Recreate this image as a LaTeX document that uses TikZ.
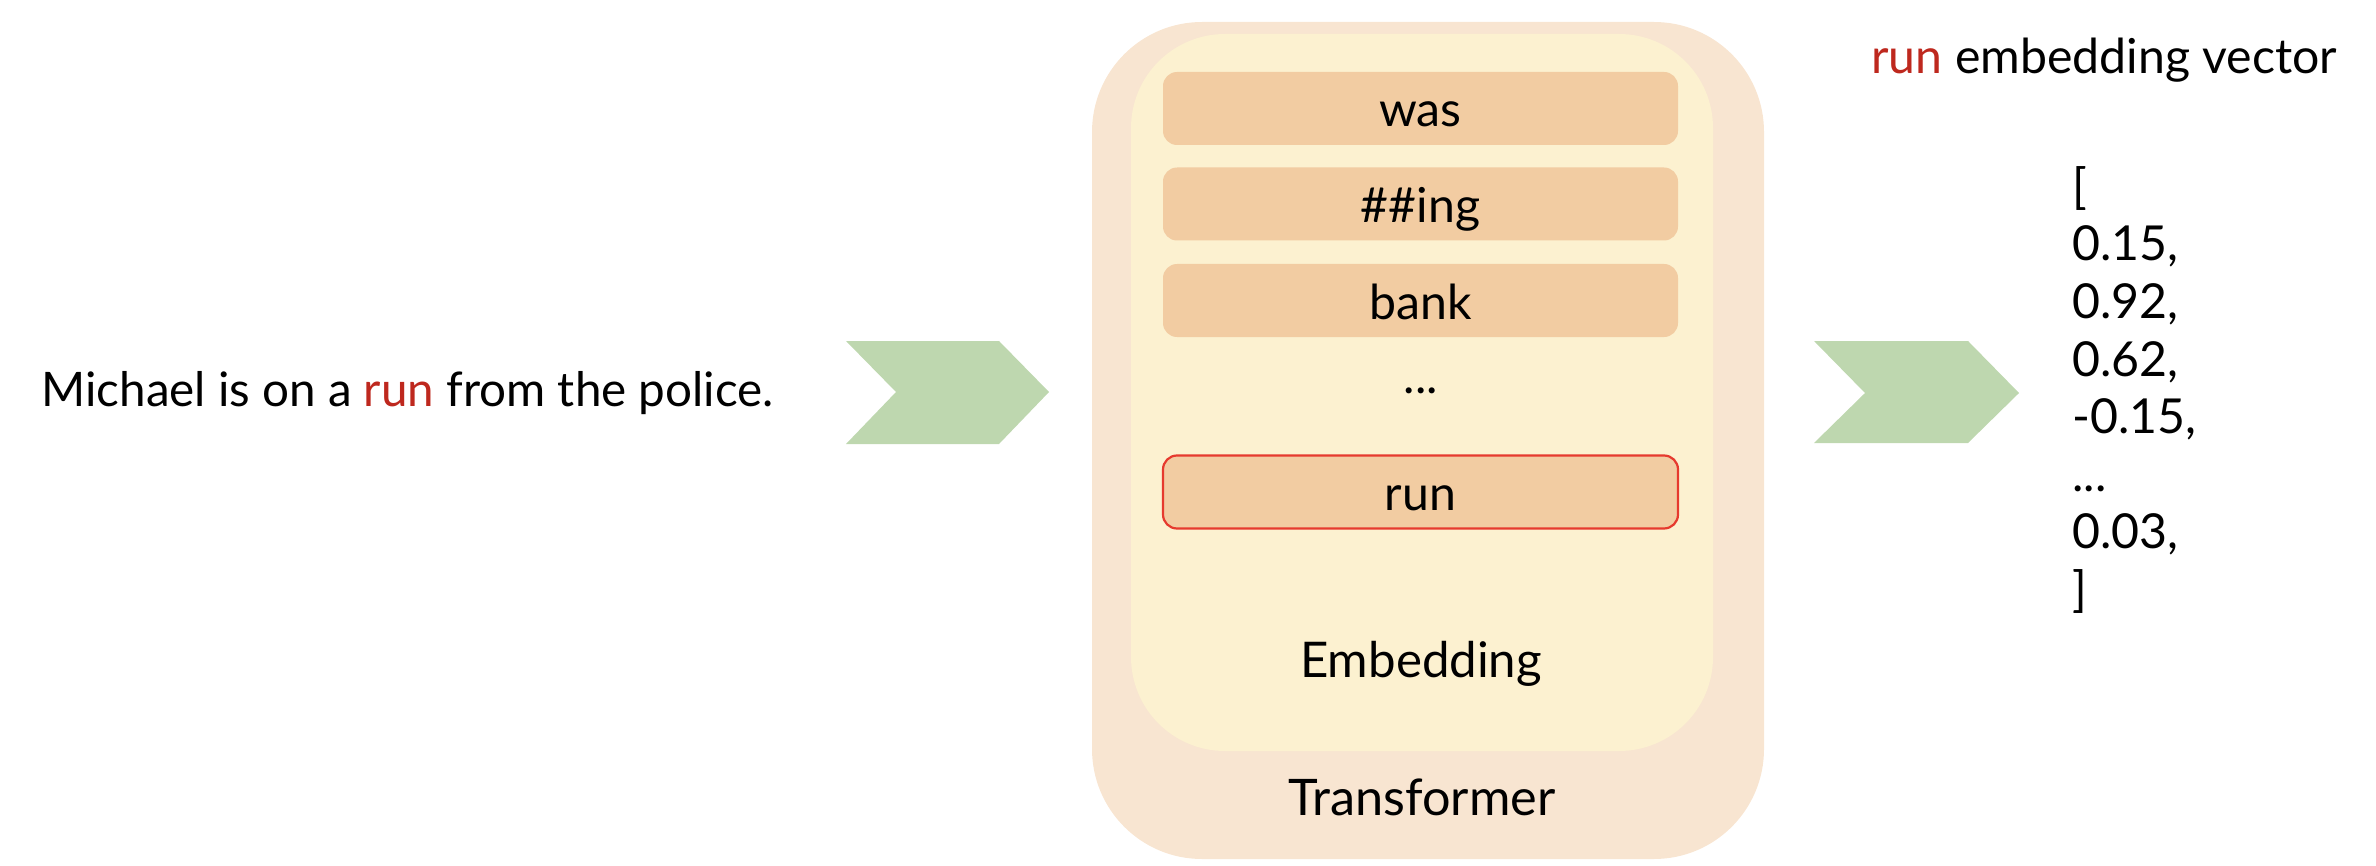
\documentclass[tikz,border=0pt]{standalone}
\usepackage{fontspec}
\setmainfont{Lato}
\definecolor{chevgreen}{RGB}{190,215,175}
\definecolor{outerfill}{RGB}{248,229,209}
\definecolor{innerfill}{RGB}{252,241,208}
\definecolor{tokfill}{RGB}{242,204,162}
\definecolor{redline}{RGB}{230,58,46}
\definecolor{redtext}{RGB}{190,40,30}
\tikzset{
  txt/.style={inner sep=0pt, anchor=base, font=\fontsize{24.1}{28.9}\selectfont},
  txtw/.style={txt, anchor=base west},
  tok/.style={rectangle, rounded corners=7pt, fill=tokfill, draw=none,
    minimum width=257.5pt, minimum height=36.5pt, inner sep=0pt,
    text height=22pt, text depth=3.5pt, font=\fontsize{24.1}{28.9}\selectfont},
  tokred/.style={tok, draw=redline, line width=1.1pt},
  chev/.style={fill=chevgreen, draw=none}
}
\begin{document}
\begin{tikzpicture}[x=0.5pt,y=-0.5pt]
\useasboundingbox (0,0) rectangle (2376,866);
% sentence
\node[txtw, font=\fontsize{23.8}{28.6}\selectfont] (sent) at (41,406) {Michael is on a \textcolor{redtext}{run} from the police.};
% left chevron
\fill[chev] (846,341) -- (999,341) -- (1049,392) -- (999,444) -- (846,444) -- (896,392) -- cycle;
% transformer box
\node[rectangle, fill=outerfill, rounded corners=55pt, minimum width=336pt, minimum height=418.5pt, inner sep=0pt] (transformer) at (1428,440.5) {};
\node[rectangle, fill=innerfill, rounded corners=47pt, minimum width=291pt, minimum height=358.5pt, inner sep=0pt] (embedding) at (1422,392.5) {};
% tokens
\node[tok] (was) at (1420.5,108.5) {was};
\node[tok] (ing) at (1420.5,204) {\#\#ing};
\node[tok] (bank) at (1420.5,300.5) {bank};
\node[txt] (dots) at (1421,393) {...};
\node[tokred] (run) at (1420.5,492) {run};
\node[txt, font=\fontsize{24.6}{29.5}\selectfont] (emblabel) at (1421,677) {Embedding};
\node[txt, font=\fontsize{25.2}{30}\selectfont] (translabel) at (1422,815) {Transformer};
% right chevron
\fill[chev] (1814,341) -- (1968,341) -- (2019,393) -- (1968,443) -- (1814,443) -- (1865,393) -- cycle;
% vector
\node[txtw] (vtitle) at (1871,74) {\textcolor{redtext}{run} embedding vector};
\node[txtw] (v1) at (2072,203.5) {[};
\node[txtw] (v2) at (2072,261) {0.15,};
\node[txtw] (v3) at (2072,318.5) {0.92,};
\node[txtw] (v4) at (2072,376) {0.62,};
\node[txtw] (v5) at (2072,433.5) {-0.15,};
\node[txtw] (v6) at (2072,491) {...};
\node[txtw] (v7) at (2072,548.5) {0.03,};
\node[txtw] (v8) at (2072,606) {]};
\end{tikzpicture}
\end{document}
